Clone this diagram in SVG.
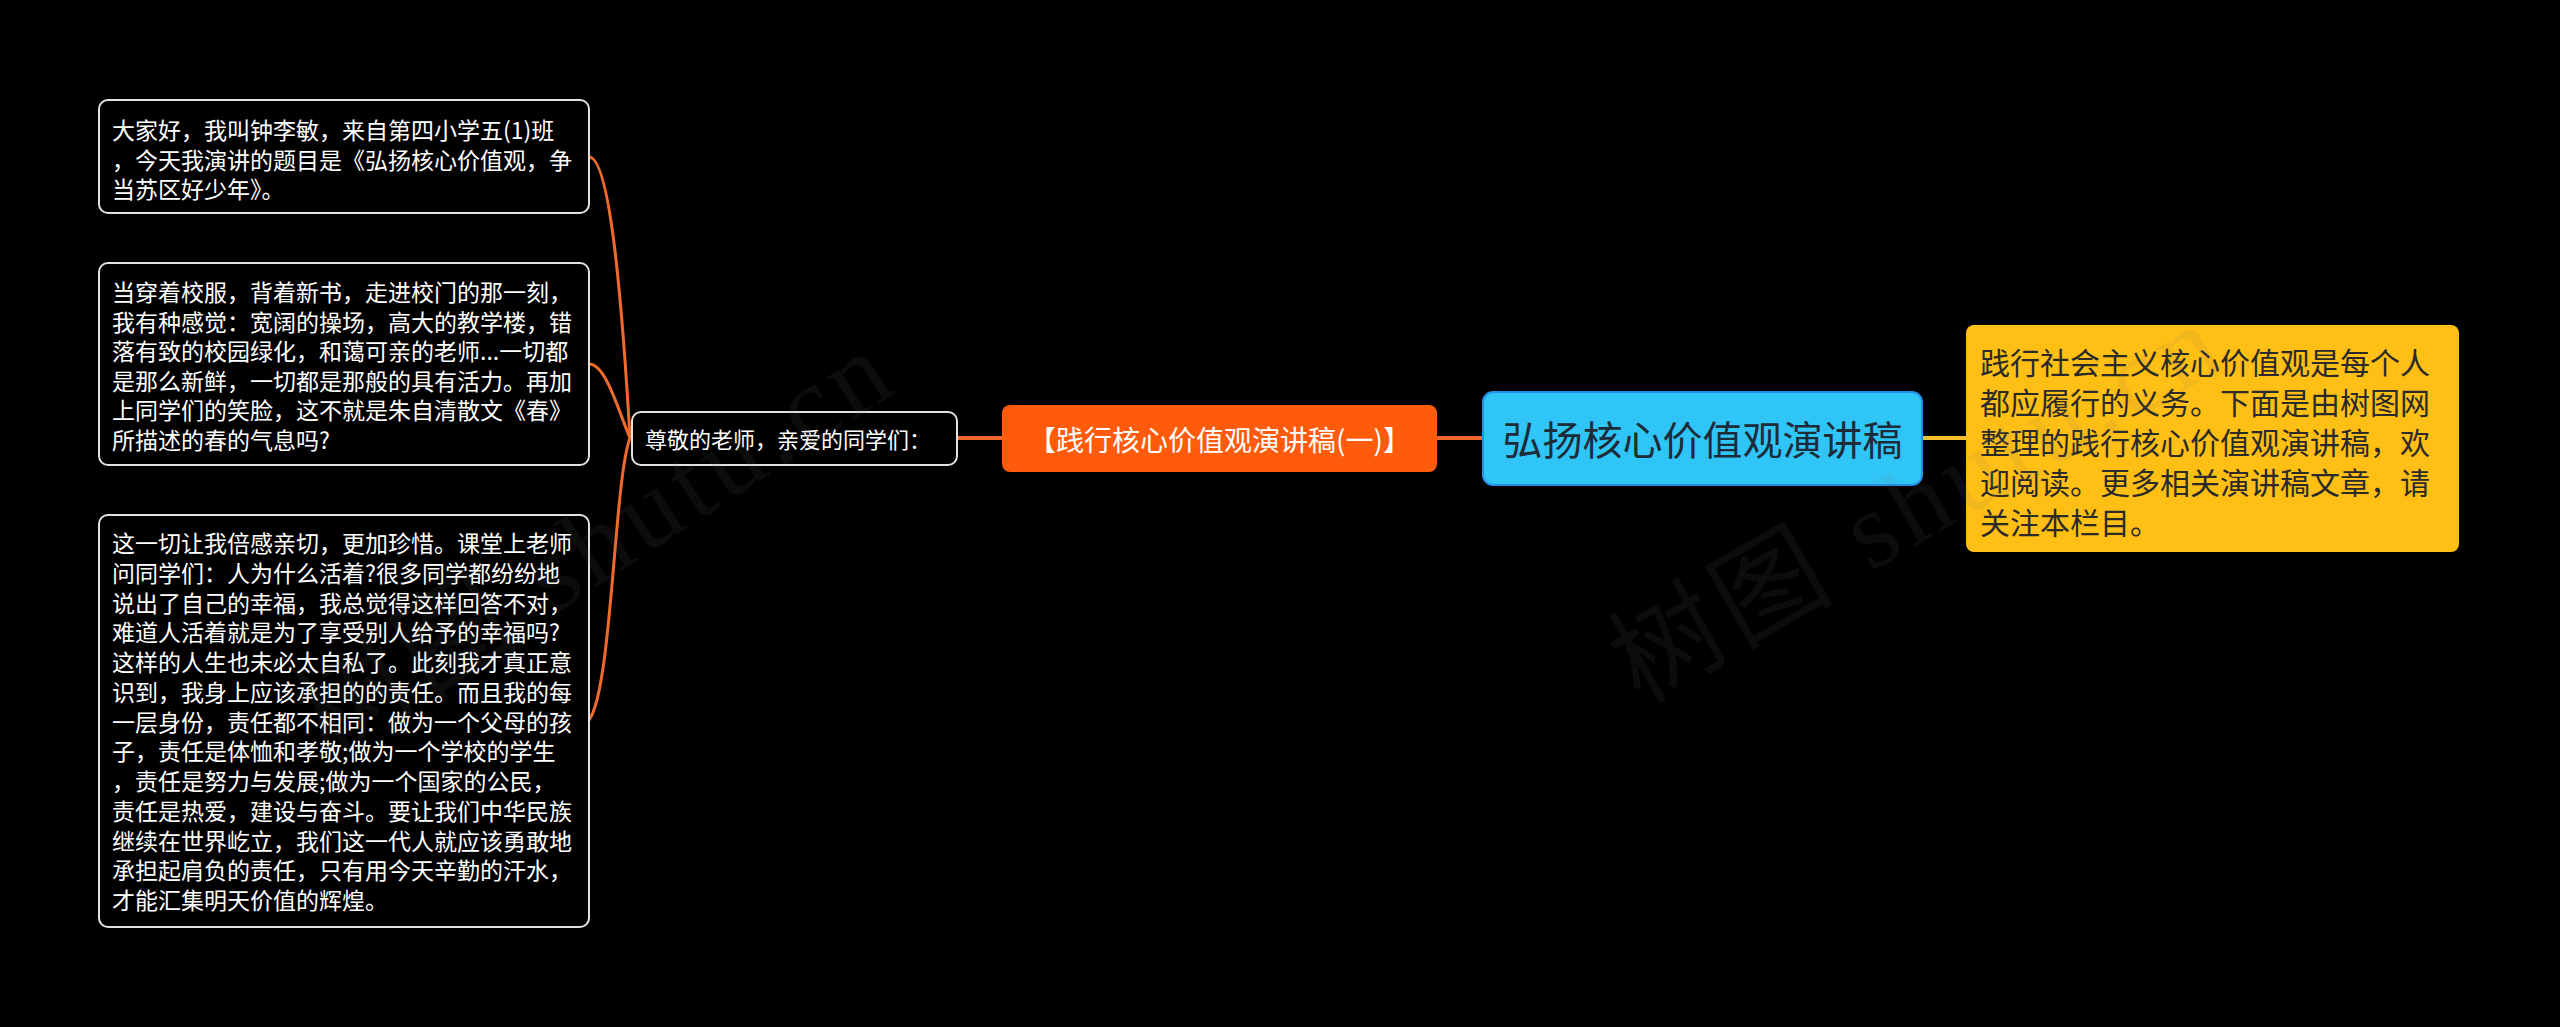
<svg xmlns="http://www.w3.org/2000/svg" width="2560" height="1027" viewBox="0 0 2560 1027">
<style>
.bg{fill:#000}
.plain{fill:#000;stroke:#e2e2e2;stroke-width:2}
.t{font-family:"Noto Sans CJK SC","Microsoft YaHei",sans-serif;fill:#fff}
.s23{font-size:23px}
.dark{fill:#2a2a2a}
.conn{fill:none;stroke:#f06a2c;stroke-width:3}
.wm{font-family:"Liberation Serif","Noto Sans CJK SC",serif;font-size:110px;fill:#7a7a7a;fill-opacity:0.1;letter-spacing:6px}
</style>
<rect class="bg" x="0" y="0" width="2560" height="1027"/>
<g id="connectors">
<path class="conn" d="M630 438 C622 300 610 157 589 157"/>
<path class="conn" d="M630 438 C618 410 606 364 589 364"/>
<path class="conn" d="M630 438 C614 480 612 690 589 720"/>
<line x1="957" y1="438" x2="1002" y2="438" stroke="#f2662a" stroke-width="4"/>
<line x1="1437" y1="438" x2="1483" y2="438" stroke="#f2662a" stroke-width="4"/>
<line x1="1923" y1="438" x2="1966" y2="438" stroke="#f5c02c" stroke-width="4"/>
</g>
<g id="root">
<rect x="1483" y="392" width="439" height="93" rx="10" fill="#30c5f7" stroke="#2190e6" stroke-width="2"/>
<text class="t" x="1702.5" y="455" font-size="40" text-anchor="middle" style="fill:#1e2b38">弘扬核心价值观演讲稿</text>
</g>
<g id="intro">
<rect x="1966" y="325" width="493" height="227" rx="8" fill="#ffbf14"/>
<text class="t dark" font-size="30"><tspan x="1980" y="374">践行社会主义核心价值观是每个人</tspan><tspan x="1980" y="414">都应履行的义务。下面是由树图网</tspan><tspan x="1980" y="454">整理的践行核心价值观演讲稿，欢</tspan><tspan x="1980" y="494">迎阅读。更多相关演讲稿文章，请</tspan><tspan x="1980" y="534">关注本栏目。</tspan></text>
</g>
<g id="branch">
<rect x="1002" y="405" width="435" height="67" rx="8" fill="#ff5b0b"/>
<text class="t" x="1219.5" y="451" font-size="28" text-anchor="middle">【践行核心价值观演讲稿(一)】</text>
</g>
<g id="greeting">
<rect class="plain" x="632" y="412" width="325" height="53" rx="9"/>
<text class="t" x="645" y="448" font-size="22">尊敬的老师，亲爱的同学们：</text>
</g>
<g id="para1">
<rect class="plain" x="99" y="100" width="490" height="113" rx="9"/>
<text class="t s23"><tspan x="112" y="139">大家好，我叫钟李敏，来自第四小学五(1)班</tspan><tspan x="112" y="168.5">，今天我演讲的题目是《弘扬核心价值观，争</tspan><tspan x="112" y="198">当苏区好少年》。</tspan></text>
</g>
<g id="para2">
<rect class="plain" x="99" y="263" width="490" height="202" rx="9"/>
<text class="t s23"><tspan x="112" y="301">当穿着校服，背着新书，走进校门的那一刻，</tspan><tspan x="112" y="330.6">我有种感觉：宽阔的操场，高大的教学楼，错</tspan><tspan x="112" y="360.2">落有致的校园绿化，和蔼可亲的老师...一切都</tspan><tspan x="112" y="389.8">是那么新鲜，一切都是那般的具有活力。再加</tspan><tspan x="112" y="419.4">上同学们的笑脸，这不就是朱自清散文《春》</tspan><tspan x="112" y="449">所描述的春的气息吗?</tspan></text>
</g>
<g id="para3">
<rect class="plain" x="99" y="515" width="490" height="412" rx="9"/>
<text class="t s23"><tspan x="112" y="552">这一切让我倍感亲切，更加珍惜。课堂上老师</tspan><tspan x="112" y="581.75">问同学们：人为什么活着?很多同学都纷纷地</tspan><tspan x="112" y="611.5">说出了自己的幸福，我总觉得这样回答不对，</tspan><tspan x="112" y="641.25">难道人活着就是为了享受别人给予的幸福吗?</tspan><tspan x="112" y="671">这样的人生也未必太自私了。此刻我才真正意</tspan><tspan x="112" y="700.75">识到，我身上应该承担的的责任。而且我的每</tspan><tspan x="112" y="730.5">一层身份，责任都不相同：做为一个父母的孩</tspan><tspan x="112" y="760.25">子，责任是体恤和孝敬;做为一个学校的学生</tspan><tspan x="112" y="790">，责任是努力与发展;做为一个国家的公民，</tspan><tspan x="112" y="819.75">责任是热爱，建设与奋斗。要让我们中华民族</tspan><tspan x="112" y="849.5">继续在世界屹立，我们这一代人就应该勇敢地</tspan><tspan x="112" y="879.25">承担起肩负的责任，只有用今天辛勤的汗水，</tspan><tspan x="112" y="909">才能汇集明天价值的辉煌。</tspan></text>
</g>
<g id="watermarks">
<text class="wm" transform="translate(330 760) rotate(-33)">树图 shutu.cn</text>
<text class="wm" transform="translate(1640 705) rotate(-30)">树图 shutu.cn</text>
</g>
</svg>
